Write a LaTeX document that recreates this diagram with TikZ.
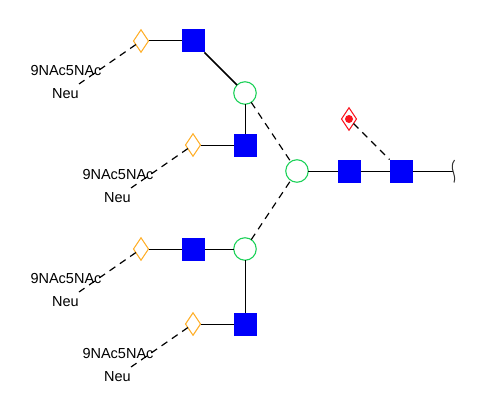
\documentclass[tikz,border=0pt]{standalone}
\usepackage{fontspec}
\setmainfont{Liberation Sans}
\usetikzlibrary{shapes.geometric}
\definecolor{gnblue}{RGB}{0,0,250}
\definecolor{gngreen}{RGB}{30,210,90}
\definecolor{gnorange}{RGB}{255,175,40}
\definecolor{gnred}{RGB}{250,20,30}
\tikzset{
  x=1pt,y=-1pt,
  glcnac/.style={draw=none,fill=gnblue,minimum size=23pt,inner sep=0pt,outer sep=0pt},
  man/.style={circle,draw=gngreen,line width=1.1pt,fill=white,minimum size=22.5pt,inner sep=0pt,outer sep=0pt},
  neu/.style={diamond,draw=gnorange,line width=1.1pt,fill=white,minimum width=15pt,minimum height=22.5pt,inner sep=0pt,outer sep=0pt,aspect=0.65},
  fuc/.style={diamond,draw=gnred,line width=1pt,fill=white,minimum width=15pt,minimum height=22.5pt,inner sep=0pt,outer sep=0pt,aspect=0.65},
  lbl/.style={font=\fontsize{14.5pt}{16pt}\selectfont,text=black,inner sep=0pt},
  bond/.style={draw=black,line width=1pt},
  dbond/.style={draw=black,line width=1.2pt,dash pattern=on 7pt off 5.5pt},
}
\begin{document}
\begin{tikzpicture}
\useasboundingbox (0,0) rectangle (494,417);
\node[glcnac] (g1) at (193,41) {};
\node[glcnac] (g2) at (245,145) {};
\node[glcnac] (g3) at (349,171) {};
\node[glcnac] (g4) at (401,171) {};
\node[glcnac] (g5) at (193,249) {};
\node[glcnac] (g6) at (245,324) {};
\node[man] (m1) at (245,93) {};
\node[man] (m2) at (297,171) {};
\node[man] (m3) at (245,249) {};
\node[neu] (n1) at (141,41) {};
\node[neu] (n2) at (193,145) {};
\node[neu] (n3) at (141,249) {};
\node[neu] (n4) at (193,324) {};
\node[fuc] (f) at (349,119) {};
\node[circle,fill=gnred,minimum size=8pt,inner sep=0pt] (fd) at (349,119) {};
\node[lbl] (t1) at (66,71) {9NAc5NAc};
\node[lbl] (u1) at (65.5,94) {Neu};
\node[lbl] (t2) at (118,175) {9NAc5NAc};
\node[lbl] (u2) at (117.5,198) {Neu};
\node[lbl] (t3) at (66,279) {9NAc5NAc};
\node[lbl] (u3) at (65.5,302) {Neu};
\node[lbl] (t4) at (118,354) {9NAc5NAc};
\node[lbl] (u4) at (117.5,377) {Neu};
\coordinate (e1) at (79,84);
\coordinate (e2) at (131,188);
\coordinate (e3) at (79,292);
\coordinate (e4) at (131,367);
\coordinate (r) at (453,171);
\draw[bond] (n1) -- (g1);
\draw[bond,line width=1.6pt] (g1) -- (m1);
\draw[bond] (n2) -- (g2);
\draw[bond] (g2) -- (m1);
\draw[bond] (m2) -- (g3);
\draw[bond] (g3) -- (g4);
\draw[bond] (g4) -- (r);
\draw[bond] (n3) -- (g5);
\draw[bond] (g5) -- (m3);
\draw[bond] (m3) -- (g6);
\draw[bond] (n4) -- (g6);
\draw[dbond] (n1) -- (e1);
\draw[dbond] (n2) -- (e2);
\draw[dbond] (n3) -- (e3);
\draw[dbond] (n4) -- (e4);
\draw[dbond] (m1) -- (m2);
\draw[dbond] (m3) -- (m2);
\draw[dbond] (f) -- (g4);
\draw[black!80,line width=1pt] (454.5,160) .. controls (451.5,164) and (452,168) .. (453,171) .. controls (454,175) and (455.5,178) .. (454,182.5);
\end{tikzpicture}
\end{document}
